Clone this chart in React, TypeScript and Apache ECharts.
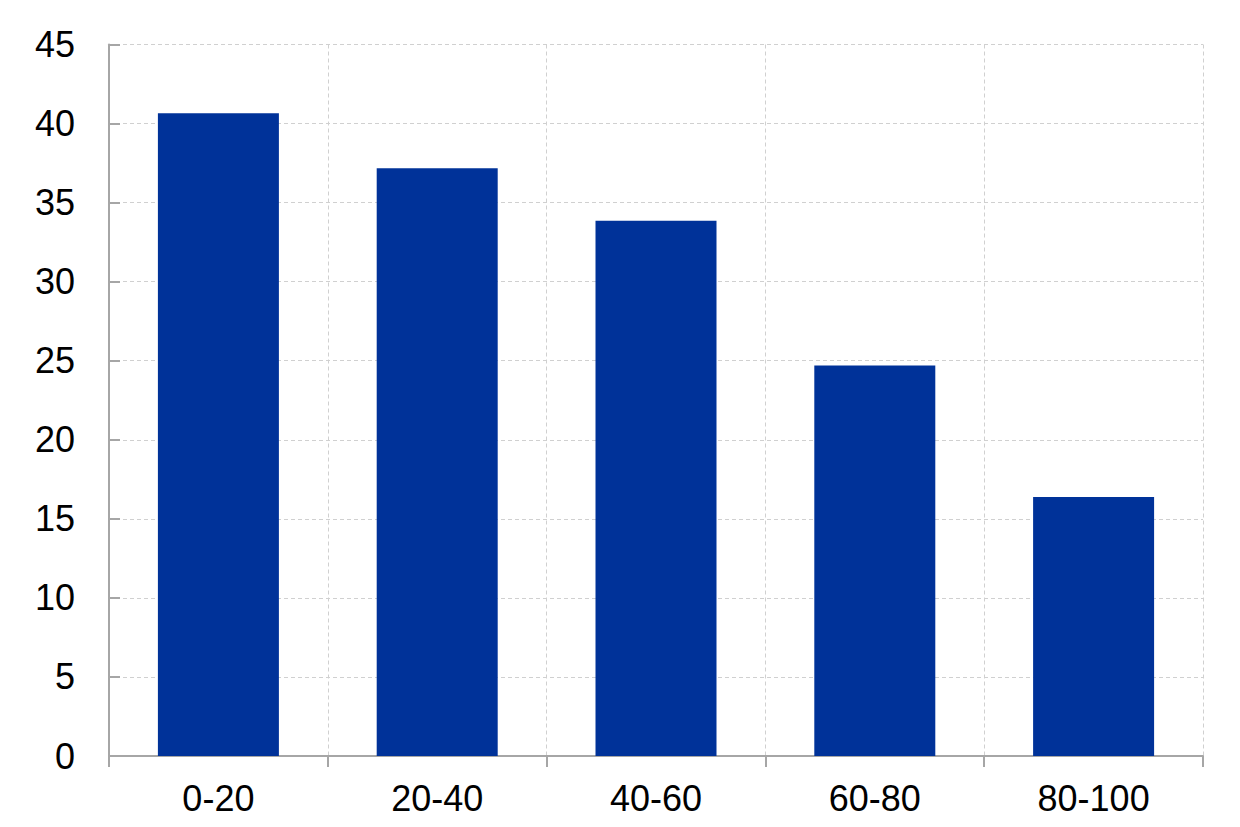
import React, { useEffect, useRef } from "react";
import * as echarts from "echarts";

const categories = ["0-20", "20-40", "40-60", "60-80", "80-100"];
const values = [40.65, 37.17, 33.85, 24.7, 16.38];
const yTicks = { min: 0, max: 45, interval: 5 };

export default function App() {
  const ref = useRef<HTMLDivElement>(null);
  useEffect(() => {
    if (!ref.current) return;
    const chart = echarts.init(ref.current, null, { renderer: "svg" });
    const font = "'Liberation Sans', Arial, sans-serif";
    chart.setOption({
      animation: false,
      backgroundColor: "#ffffff",
      grid: { left: 109, right: 37, top: 44.5, bottom: 71, containLabel: false },
      xAxis: {
        type: "category",
        data: categories,
        boundaryGap: true,
        axisLine: { show: true, lineStyle: { color: "#a6a6a6", width: 2 } },
        axisTick: { show: true, inside: false, length: 11, alignWithLabel: false, lineStyle: { color: "#a6a6a6", width: 2 } },
        axisLabel: { color: "#000000", fontSize: 36, fontFamily: font, margin: 24 },
        splitLine: { show: true, lineStyle: { color: "#d0d0d0", width: 1, type: [4, 3] } },
      },
      yAxis: {
        type: "value",
        min: yTicks.min,
        max: yTicks.max,
        interval: yTicks.interval,
        axisLine: { show: true, lineStyle: { color: "#a6a6a6", width: 2 } },
        axisTick: { show: true, inside: true, length: 11, lineStyle: { color: "#a6a6a6", width: 2 } },
        axisLabel: { color: "#000000", fontSize: 36, fontFamily: font, margin: 34 },
        splitLine: { show: true, lineStyle: { color: "#d0d0d0", width: 1, type: [4, 3] } },
      },
      series: [
        {
          type: "bar",
          data: values,
          barWidth: 121,
          itemStyle: { color: "#003299" },
        },
      ],
    });
    return () => chart.dispose();
  }, []);
  return <div ref={ref} style={{ width: 1240, height: 827, position: "absolute", left: 0, top: 0 }} />;
}
